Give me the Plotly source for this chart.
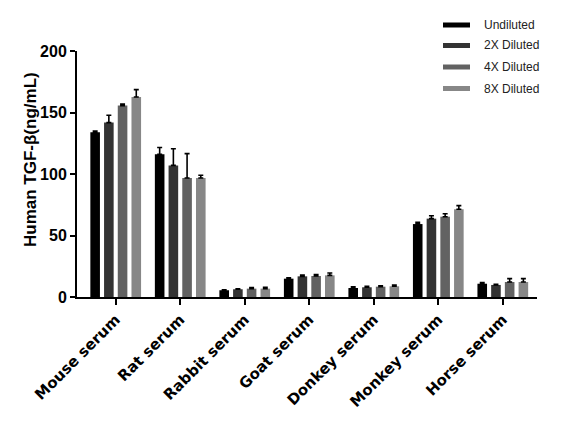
import plotly.graph_objects as go

# --- Données ---
categories = ["Mouse serum", "Rat serum", "Rabbit serum", "Goat serum",
              "Donkey serum", "Monkey serum", "Horse serum"]
series_names = ["Undiluted", "2X Diluted", "4X Diluted", "8X Diluted"]

undiluted = [134, 116, 5.5, 14.9, 7.3, 59.3, 10.8]
undiluted_err = [1.0, 5.5, 0.3, 0.8, 0.9, 1.4, 0.9]

diluted_2x = [141.8, 107, 6.3, 16.8, 7.9, 63.7, 9.8]
diluted_2x_err = [6.0, 13.5, 0.3, 1.0, 0.9, 2.4, 0.6]

diluted_4x = [155.6, 96.8, 6.8, 17.1, 8.4, 65.3, 12.2]
diluted_4x_err = [1.2, 19.8, 0.9, 1.1, 0.8, 2.4, 2.7]

diluted_8x = [162.6, 96.8, 6.8, 17.6, 8.7, 71.3, 12.2]
diluted_8x_err = [6.0, 2.2, 1.1, 1.9, 1.1, 3.0, 2.7]

colors = ["#000000", "#333333", "#626262", "#878787"]

values = [undiluted, diluted_2x, diluted_4x, diluted_8x]
errors = [undiluted_err, diluted_2x_err, diluted_4x_err, diluted_8x_err]

# la page HTML a une marge de 8 px autour de la figure
W, H = 554, 428
M_L, M_R, M_T, M_B = 69, 25, 43, 139
OFF = 8

fig = go.Figure()

for name, y, err, col in zip(series_names, values, errors, colors):
    fig.add_trace(go.Bar(
        x=categories, y=y, name=name,
        marker=dict(color=col, line=dict(width=0)),
        error_y=dict(type="data", symmetric=False, array=err,
                     arrayminus=[0] * len(err),
                     color="black", thickness=1.6, width=2.5),
        showlegend=False,
    ))

# --- Légende dessinée à la main (traits épais en haut à droite, hors zone de tracé) ---
pw = W - M_L - M_R
ph = H - M_T - M_B
leg_rows_px = [25, 45.5, 67, 88.5]
for name, col, ypx in zip(series_names, colors, leg_rows_px):
    yp = (H - M_B - (ypx - OFF)) / ph
    fig.add_shape(type="line", xref="paper", yref="paper",
                  x0=(443 - OFF - M_L) / pw, x1=(470 - OFF - M_L) / pw, y0=yp, y1=yp,
                  line=dict(color=col, width=5))
    fig.add_annotation(xref="paper", yref="paper", x=(482 - OFF - M_L) / pw, y=yp,
                       text=name, showarrow=False, xanchor="left", yanchor="middle",
                       font=dict(family="Liberation Sans, Arial, sans-serif",
                                 size=12, color="#222"))

# Titre de l'axe Y (un peu au-dessus du centre, comme sur l'original)
fig.add_annotation(xref="paper", yref="paper",
                   x=(30 - OFF - M_L) / pw, y=(H - M_B - (160 - OFF)) / ph,
                   text="Human TGF-β(ng/mL)", textangle=-90, showarrow=False,
                   xanchor="center", yanchor="middle",
                   font=dict(family="Liberation Sans, Arial, sans-serif", size=17,
                             color="black", weight="bold"))

fig.update_layout(
    width=W, height=H,
    margin=dict(l=M_L, r=M_R, t=M_T, b=M_B),
    paper_bgcolor="white", plot_bgcolor="white",
    barmode="group", bargap=0.15, bargroupgap=0.3,
    showlegend=False,
    font=dict(family="Liberation Sans, Arial, sans-serif", color="black"),
    xaxis=dict(
        range=[-0.6, 6.53], showline=True, linecolor="black", linewidth=2,
        ticks="outside", ticklen=6, tickwidth=2, tickcolor="black",
        tickangle=-45, showgrid=False, zeroline=False, automargin=False,
        tickfont=dict(family="DejaVu Sans, sans-serif", size=15, color="black",
                      weight="bold"),
    ),
    yaxis=dict(
        range=[0, 200], tickvals=[0, 50, 100, 150, 200],
        showline=True, linecolor="black", linewidth=2,
        ticks="outside", ticklen=5, tickwidth=2, tickcolor="black",
        showgrid=False, zeroline=False, automargin=False,
        tickfont=dict(family="Liberation Sans, Arial, sans-serif", size=16,
                      color="black", weight="bold"),
    ),
)

fig.write_html("out.html")
